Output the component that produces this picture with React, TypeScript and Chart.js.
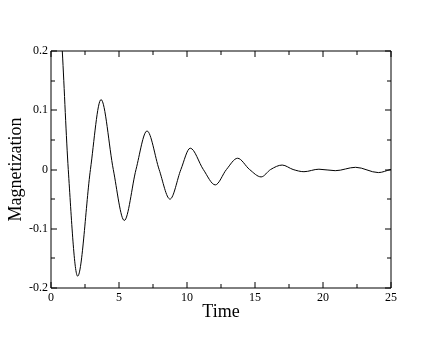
import React, { useEffect, useRef } from 'react';
import { Chart, registerables } from 'chart.js';

Chart.register(...registerables);

// Data (extrema and zero crossings)
const timeValues = [
  0, 0.4, 0.83, 1.27, 1.96, 2.9, 3.68, 4.58, 5.39, 6.25, 7.06, 7.95,
  8.75, 9.55, 10.24, 11.2, 12.08, 12.9, 13.72, 14.6, 15.45, 16.15, 17.0, 17.8, 18.6, 19.7,
  20.9, 22.4, 24.07, 25,
];
const magnetizationValues = [
  0.5, 0.37, 0.2, 0, -0.18, 0, 0.118, 0, -0.086, 0, 0.065, 0,
  -0.05, 0, 0.036, 0, -0.026, 0, 0.019, 0, -0.0125, 0, 0.0075, 0, -0.0037, 0.0005,
  -0.002, 0.0037, -0.0052, 0.0003,
];

const xMajorTicks = [0, 5, 10, 15, 20, 25];
const xMinorTicks = [2.5, 7.5, 12.5, 17.5, 22.5];
const yMajorTicks = [-0.2, -0.1, 0, 0.1, 0.2];
const yMinorTicks = [-0.15, -0.05, 0.05, 0.15];

const xTitle = 'Time';
const yTitle = 'Magnetization';

const SERIF = '"Liberation Serif", "Times New Roman", serif';

const framePlugin = {
  id: 'frameTicks',
  afterDatasetsDraw(chart: any) {
    const { ctx, chartArea, scales } = chart;
    const { left, right, top, bottom } = chartArea;
    const xs = scales.x;
    const ys = scales.y;
    ctx.save();
    ctx.strokeStyle = '#000';
    ctx.lineWidth = 1;
    ctx.beginPath();
    ctx.rect(left, top, right - left, bottom - top);
    ctx.stroke();
    const major = 6;
    const minor = 4;
    ctx.beginPath();
    const vx = (v: number, len: number) => {
      const px = Math.round(xs.getPixelForValue(v));
      ctx.moveTo(px, bottom);
      ctx.lineTo(px, bottom - len);
      ctx.moveTo(px, top);
      ctx.lineTo(px, top + len);
    };
    const vy = (v: number, len: number) => {
      const py = Math.round(ys.getPixelForValue(v));
      ctx.moveTo(left, py);
      ctx.lineTo(left + len, py);
      ctx.moveTo(right, py);
      ctx.lineTo(right - len, py);
    };
    xMajorTicks.forEach((v) => vx(v, major));
    xMinorTicks.forEach((v) => vx(v, minor));
    yMajorTicks.forEach((v) => vy(v, major));
    yMinorTicks.forEach((v) => vy(v, minor));
    ctx.stroke();
    ctx.restore();
  },
};

export default function App() {
  const canvasRef = useRef<HTMLCanvasElement | null>(null);

  useEffect(() => {
    if (!canvasRef.current) return;
    const points = timeValues.map((t, i) => ({ x: t, y: magnetizationValues[i] }));
    const chart = new Chart(canvasRef.current, {
      type: 'line',
      data: {
        datasets: [
          {
            data: points,
            borderColor: '#000',
            borderWidth: 1,
            pointRadius: 0,
            fill: false,
            cubicInterpolationMode: 'monotone',
          },
        ],
      },
      options: {
        responsive: false,
        animation: false,
        events: [],
        layout: { padding: { left: 5, right: 49, top: 51, bottom: 17 } },
        plugins: {
          legend: { display: false },
          tooltip: { enabled: false },
        },
        scales: {
          x: {
            type: 'linear',
            min: 0,
            max: 25,
            grid: { display: false, drawTicks: false },
            border: { display: false },
            afterBuildTicks: (scale: any) => {
              scale.ticks = xMajorTicks.map((v) => ({ value: v }));
            },
            afterFit: (scale: any) => {
              scale.height = 35;
            },
            ticks: {
              padding: 3,
              color: '#000',
              font: { family: SERIF, size: 12 },
              maxRotation: 0,
              callback: (v: any) => String(v),
            },
            title: {
              display: true,
              text: xTitle,
              color: '#000',
              font: { family: SERIF, size: 18 },
              padding: 0,
            },
          },
          y: {
            type: 'linear',
            min: -0.2,
            max: 0.2,
            grid: { display: false, drawTicks: false },
            border: { display: false },
            afterBuildTicks: (scale: any) => {
              scale.ticks = yMajorTicks.map((v) => ({ value: v }));
            },
            afterFit: (scale: any) => {
              scale.width = 46;
            },
            ticks: {
              padding: 3,
              color: '#000',
              font: { family: SERIF, size: 12 },
              callback: (v: any) => String(Math.round(Number(v) * 10) / 10),
            },
            title: {
              display: true,
              text: yTitle,
              color: '#000',
              font: { family: SERIF, size: 18 },
              padding: 0,
            },
          },
        },
      },
      plugins: [framePlugin],
    } as any);
    return () => chart.destroy();
  }, []);

  return (
    <div style={{ position: 'absolute', left: 0, top: 0, width: 440, height: 340, background: '#fff' }}>
      <canvas ref={canvasRef} width={440} height={340} style={{ display: 'block' }} />
    </div>
  );
}
